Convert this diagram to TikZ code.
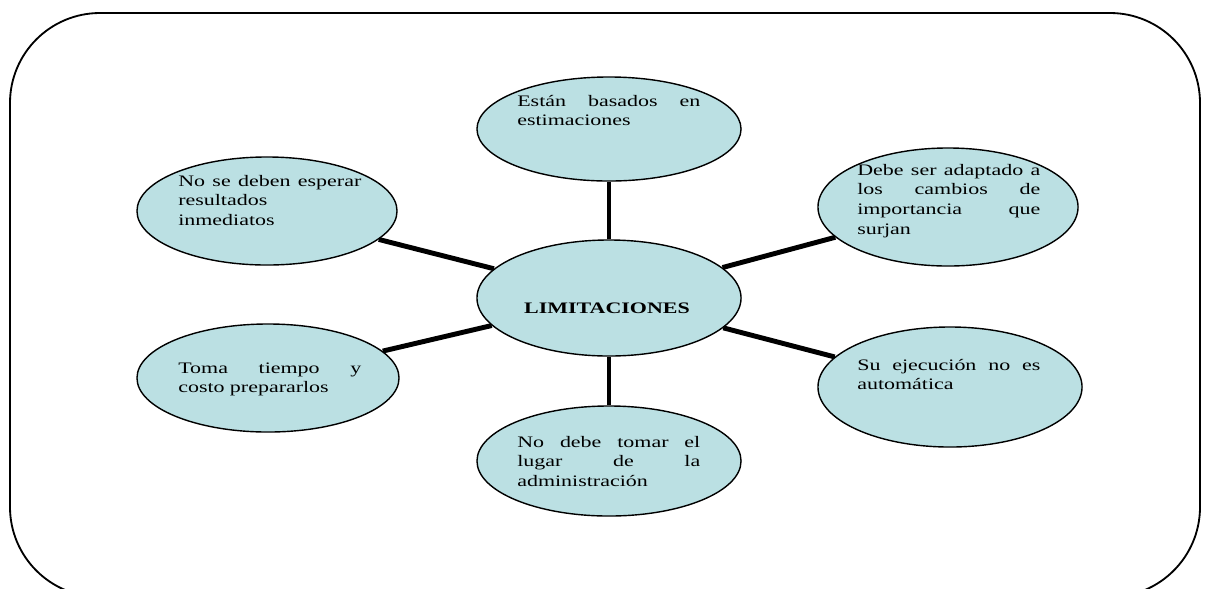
\documentclass[tikz,border=0pt]{standalone}
\usepackage{fontspec}
\setmainfont{Liberation Serif}[FakeStretch=1.37]
\usetikzlibrary{shapes.geometric,backgrounds}
\definecolor{bubblefill}{RGB}{187,224,227}
\begin{document}
\begin{tikzpicture}[x=0.025cm,y=-0.025cm,
  bubble/.style={ellipse, draw=black, line width=1pt, fill=bubblefill, inner sep=0pt},
  txt/.style={anchor=base west, inner sep=0pt, text width=4.575cm, align=left,
    font=\fontsize{11.4pt}{14.2pt}\selectfont},
  conn/.style={line width=3.5pt, black},
  frame/.style={draw=black, line width=1.3pt, rounded corners=2.25cm}]
\useasboundingbox (0,0) rectangle (1207,588);
\clip (0,0) rectangle (1207,588);
% ellipses
\node[bubble, minimum width=6.6cm,  minimum height=2.6cm]  (top) at (609,129) {};
\node[bubble, minimum width=6.5cm,  minimum height=2.7cm]  (tl)  at (267,211) {};
\node[bubble, minimum width=6.5cm,  minimum height=2.95cm] (tr)  at (948,207) {};
\node[bubble, minimum width=6.6cm,  minimum height=2.9cm]  (c)   at (609,298) {};
\node[bubble, minimum width=6.55cm, minimum height=2.7cm]  (bl)  at (268,378) {};
\node[bubble, minimum width=6.6cm,  minimum height=3.0cm]  (br)  at (950,387) {};
\node[bubble, minimum width=6.6cm,  minimum height=2.75cm] (bot) at (609,461) {};
% texts
\node[txt] (ttop) at (517,106) {Están\hfill basados\hfill en\\estimaciones};
\node[txt] (ttl)  at (178,186) {No\hfill se\hfill deben\hfill esperar\\resultados\\inmediatos};
\node[txt] (ttr)  at (857,175) {Debe\hfill ser\hfill adaptado\hfill a\\los\hfill cambios\hfill de\\importancia\hfill que\\surjan};
\node[anchor=base, inner sep=0pt, font=\fontsize{11.4pt}{14.2pt}\selectfont\bfseries] (tc) at (607,313) {LIMITACIONES};
\node[txt] (tbl)  at (178,373) {Toma\hfill tiempo\hfill y\\costo prepararlos};
\node[txt] (tbr)  at (857,370) {Su\hfill ejecución\hfill no\hfill es\\automática};
\node[txt] (tbot) at (517,447) {No\hfill debe\hfill tomar\hfill el\\lugar\hfill de\hfill la\\administración};
\begin{scope}[on background layer]
  \draw[frame] (10,13) rectangle (1200,597);
  \draw[conn] (c) -- (top);
  \draw[conn] (c) -- (tl);
  \draw[conn] (c) -- (tr);
  \draw[conn] (c) -- (bl);
  \draw[conn] (c) -- (br);
  \draw[conn] (c) -- (bot);
\end{scope}
\end{tikzpicture}
\end{document}
